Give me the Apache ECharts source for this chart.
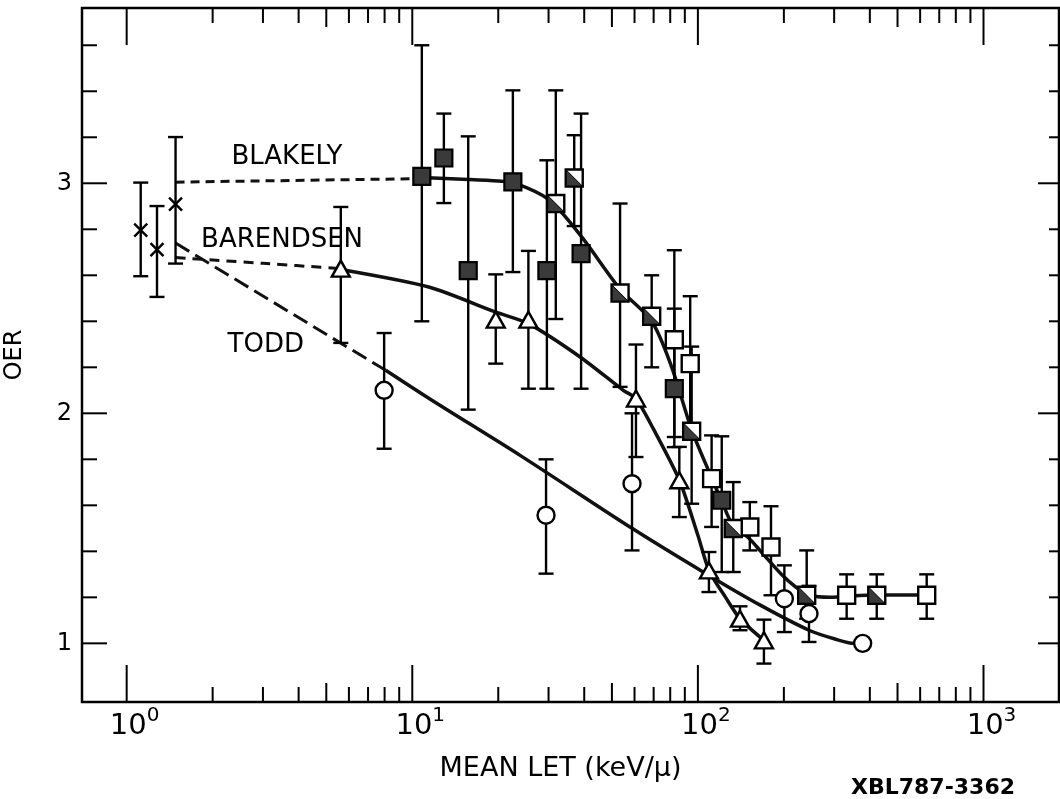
<!DOCTYPE html>
<html><head><meta charset="utf-8">
<script src="https://cdn.jsdelivr.net/npm/echarts@6/dist/echarts.min.js"></script>
<style>html,body{margin:0;padding:0;background:#fff}#c{width:1060px;height:799px}</style>
</head><body><div id="c"></div><script>
// ---------- data ----------
// crosses (x, OER) and error bars (x, low, high)
const crossPts = [[1.12,2.796],[1.277,2.712],[1.483,2.909]];
const crossErr = [[1.12,2.596,3.003],[1.277,2.506,2.901],[1.483,2.651,3.201]];

// Blakely filled squares
const blakelyFilled = [[10.8,3.03],[12.9,3.11],[15.7,2.62],[22.5,3.006],[29.6,2.62],[39.0,2.694],[82.7,2.107],[121.2,1.622]];
const blakelyFilledErr = [[10.8,2.40,3.60],[12.9,2.914,3.303],[15.7,2.016,3.204],[22.5,2.614,3.404],[29.6,2.107,3.10],[39.0,2.107,3.303],[82.7,1.853,2.455],[121.2,1.31,1.90]];
// Blakely half-filled squares
const blakelyHalf = [[31.8,2.912],[36.9,3.023],[53.4,2.523],[68.9,2.422],[95.1,1.922],[133,1.499],[240.4,1.209],[422.9,1.209]];
const blakelyHalfErr = [[31.8,2.41,3.404],[36.9,2.814,3.209],[53.4,2.115,2.912],[68.9,2.2,2.6],[95.1,1.607,2.29],[133,1.31,1.701],[240.4,1.107,1.404],[422.9,1.107,1.3]];
// Blakely open squares
const blakelyOpen = [[82.7,2.32],[94,2.216],[111.7,1.716],[152,1.506],[180.3,1.419],[331.8,1.209],[632.6,1.209]];
const blakelyOpenErr = [[82.7,1.897,2.709],[94,1.93,2.509],[111.7,1.506,1.904],[152,1.404,1.614],[180.3,1.209,1.596],[331.8,1.107,1.3],[632.6,1.107,1.3]];

// Barendsen triangles
const baren = [[5.62,2.629],[19.6,2.407],[25.5,2.407],[60.7,2.064],[86.1,1.709],[109.3,1.317],[140.4,1.107],[170.3,1.013]];
const barenErr = [[5.62,2.306,2.897],[19.6,2.216,2.604],[25.5,2.107,2.706],[60.7,1.81,2.299],[86.1,1.549,1.854],[109.3,1.223,1.397],[140.4,1.057,1.161],[170.3,0.912,1.103]];

// Todd circles
const todd = [[7.97,2.10],[29.4,1.557],[58.8,1.694],[200.8,1.194],[244.9,1.129],[377.5,1.0]];
const toddErr = [[7.97,1.846,2.349],[29.4,1.303,1.80],[58.8,1.404,2.0],[200.8,1.049,1.339],[244.9,1.006,1.25]];

// hand-drawn curves
const blakelyDash = [[1.483,3.005],[10.5,3.02]];
const blakelyCurve = [[10.8,3.025],[15,3.018],[20,3.01],[23,3.0],[30,2.93],[39,2.77],[53.4,2.54],[68.9,2.40],[81,2.20],[95,1.93],[111.7,1.72],[121,1.62],[133,1.51],[150,1.46],[166,1.40],[196,1.30],[220,1.245],[245,1.21],[290,1.20],[332,1.205],[423,1.21],[633,1.21]];
const barenDash = [[1.483,2.677],[3.0,2.652],[5.62,2.629]];
const barenCurve = [[5.62,2.625],[11.5,2.548],[19.6,2.44],[25.5,2.39],[38.7,2.245],[54.8,2.10],[60.7,2.064],[70,1.93],[86.1,1.71],[100,1.47],[109.3,1.317],[125,1.2],[140.4,1.107],[170.3,1.013]];
const toddDash = [[1.483,2.74],[8.07,2.187]];
const toddCurve = [[8.07,2.187],[11.6,2.06],[24,1.815],[58.8,1.50],[106.7,1.303],[166,1.165],[245,1.057],[300,1.02],[352,1.0],[377.5,1.0]];

// annotations
const annotNames = ['BLAKELY','BARENDSEN','TODD'];
const annotX = [3.64, 3.50, 3.07];
const annotY = [3.113, 2.752, 2.296];

// tick marks
const xTickMajor = [1,10,100,1000];
const xTickMid = [5,50,500];
const xTickMinor = [2,3,4,6,7,8,9,20,30,40,60,70,80,90,200,300,400,600,700,800,900];
const yTickMajor = [1,2,3];
const yTickMinor = [1.2,1.4,1.6,1.8,2.2,2.4,2.6,2.8,3.2,3.4,3.6];

// ---------- chart ----------
const FONT = 'DejaVu Sans';
const X_MIN = 0.6976, X_MAX = 1838, Y_MIN = 0.745, Y_MAX = 3.762;

const allErr = crossErr.concat(blakelyFilledErr, blakelyHalfErr, blakelyOpenErr, barenErr, toddErr);
const xTicks = xTickMajor.map(v => [v, 1, 0]).concat(xTickMid.map(v => [v, 1, 1]), xTickMinor.map(v => [v, 1, 2]));
const yTicks = yTickMajor.map(v => [10, v, 0]).concat(yTickMinor.map(v => [10, v, 2]));
const annot = annotNames.map((n, i) => ({name: n, value: [annotX[i], annotY[i]]}));

function lineSeries(data, width, dash, smooth) {
  return {
    type: 'line', data: data, symbol: 'none', z: 2, silent: true,
    smooth: smooth,
    lineStyle: {color: '#111', width: width, type: dash || 'solid', cap: 'butt'}
  };
}
function scatterSeries(data, symbol, size, fill, border, bw, z) {
  return {
    type: 'scatter', data: data, symbol: symbol, symbolSize: size, z: z || 4, silent: true,
    itemStyle: {color: fill, borderColor: border, borderWidth: bw, opacity: 1}
  };
}

const chart = echarts.init(document.getElementById('c'), null, {renderer: 'canvas'});
chart.setOption({
  animation: false,
  backgroundColor: '#fff',
  textStyle: {fontFamily: FONT},
  grid: {left: 82, right: 1, top: 8, bottom: 97, containLabel: false, outerBoundsMode: 'none',
         show: true, borderColor: '#000', borderWidth: 2.5, backgroundColor: 'transparent'},
  xAxis: {
    type: 'log', logBase: 10, min: X_MIN, max: X_MAX,
    axisLine: {show: false}, axisTick: {show: false}, splitLine: {show: false}, minorTick: {show: false},
    axisLabel: {
      margin: 4, padding: [0, 0, 0, 16], showMinLabel: false, showMaxLabel: false,
      formatter: function (v) {
        const l = Math.log10(v), e = Math.round(l);
        if (Math.abs(l - e) > 1e-6) return '';
        return '{b|10}{s|' + e + '}';
      },
      rich: {
        b: {fontSize: 29, fontFamily: FONT, color: '#000', verticalAlign: 'bottom', lineHeight: 35},
        s: {fontSize: 20, fontFamily: FONT, color: '#000', verticalAlign: 'top', lineHeight: 20}
      }
    },
    name: 'MEAN LET (keV/\u03bc)', nameLocation: 'middle', nameGap: 53,
    nameTextStyle: {fontSize: 27, color: '#000', fontFamily: FONT, padding: [0, 20, 0, 0]}
  },
  yAxis: {
    type: 'value', min: Y_MIN, max: Y_MAX,
    axisLine: {show: false}, axisTick: {show: false}, splitLine: {show: false},
    axisLabel: {
      margin: 10, fontSize: 24, color: '#000', fontFamily: FONT,
      formatter: function (v) { return Math.abs(v - Math.round(v)) < 1e-6 ? String(Math.round(v)) : ''; }
    },
    name: 'OER', nameLocation: 'middle', nameRotate: 90, nameGap: 55,
    nameTextStyle: {fontSize: 24, color: '#000', fontFamily: FONT}
  },
  graphic: [{
    type: 'text', left: 851, top: 777,
    style: {text: 'XBL787-3362', font: 'bold 22px "DejaVu Sans"', fill: '#000'}
  }],
  series: [
    lineSeries(blakelyDash, 3, [9, 6], false),
    lineSeries(blakelyCurve, 3.5, null, 0.3),
    lineSeries(barenDash, 3, [10, 7], 0.3),
    lineSeries(barenCurve, 3.5, null, 0.25),
    lineSeries(toddDash, 3, [16, 7], false),
    lineSeries(toddCurve, 3.5, null, 0.3),
    {
      type: 'custom', z: 3, silent: true, data: allErr, encode: {x: 0, y: [1, 2]},
      renderItem: function (params, api) {
        const x = api.value(0), lo = api.value(1), hi = api.value(2);
        const p1 = api.coord([x, lo]), p2 = api.coord([x, hi]);
        const w = 7.5, st = {stroke: '#000', lineWidth: 2.4};
        return {type: 'group', children: [
          {type: 'line', shape: {x1: p1[0], y1: p1[1], x2: p2[0], y2: p2[1]}, style: st},
          {type: 'line', shape: {x1: p1[0] - w, y1: p1[1], x2: p1[0] + w, y2: p1[1]}, style: st},
          {type: 'line', shape: {x1: p2[0] - w, y1: p2[1], x2: p2[0] + w, y2: p2[1]}, style: st}
        ]};
      }
    },
    scatterSeries(crossPts, 'path://M0,0 L10,10 M10,0 L0,10', 13, 'none', '#000', 2.4),
    scatterSeries(blakelyOpen, 'rect', 17, '#fff', '#000', 2.4),
    scatterSeries(blakelyHalf, 'rect', 17, '#fff', '#000', 2.4),
    scatterSeries(blakelyHalf, 'path://M0,0 L0,10 L10,10 Z', 16, '#3a3a3a', '#000', 1),
    scatterSeries(blakelyFilled, 'rect', 17, '#3a3a3a', '#000', 2.2),
    scatterSeries(baren, 'triangle', [18, 16], '#fff', '#000', 2.4),
    scatterSeries(todd, 'circle', 17, '#fff', '#000', 2.4),
    {
      type: 'custom', z: 5, silent: true, data: xTicks, encode: {x: 0, y: 1},
      renderItem: function (params, api) {
        const cs = params.coordSys;
        const x = api.coord([api.value(0), 1])[0];
        const k = api.value(2);
        const L = k === 0 ? 37 : (k === 1 ? 19 : 15);
        const b = cs.y + cs.height, t = cs.y, st = {stroke: '#000', lineWidth: 2};
        return {type: 'group', children: [
          {type: 'line', shape: {x1: x, y1: b, x2: x, y2: b - L}, style: st},
          {type: 'line', shape: {x1: x, y1: t, x2: x, y2: t + L}, style: st}
        ]};
      }
    },
    {
      type: 'custom', z: 5, silent: true, data: yTicks, encode: {x: 0, y: 1},
      renderItem: function (params, api) {
        const cs = params.coordSys;
        const y = api.coord([10, api.value(1)])[1];
        const k = api.value(2);
        const L = k === 0 ? 25 : 15, R = k === 0 ? 21 : 10;
        const l = cs.x, r = cs.x + cs.width, st = {stroke: '#000', lineWidth: 2};
        return {type: 'group', children: [
          {type: 'line', shape: {x1: l, y1: y, x2: l + L, y2: y}, style: st},
          {type: 'line', shape: {x1: r, y1: y, x2: r - R, y2: y}, style: st}
        ]};
      }
    },
    {
      type: 'scatter', data: annot, symbolSize: 1, z: 6, silent: true,
      itemStyle: {color: 'rgba(0,0,0,0)', opacity: 1},
      label: {show: true, position: 'inside', formatter: '{b}', fontSize: 26, color: '#000', fontFamily: FONT, opacity: 1}
    }
  ]
});
</script></body></html>
